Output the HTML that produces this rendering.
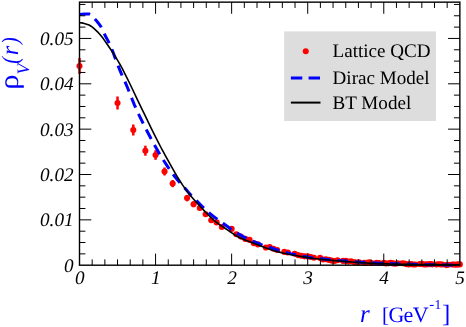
<!DOCTYPE html>
<html><head><meta charset="utf-8"><title>rho_V(r)</title>
<style>html,body{margin:0;padding:0;background:#fff;overflow:hidden}body{width:466px;height:327px;font-family:"Liberation Serif",serif}</style>
</head><body>
<svg width="466" height="327" viewBox="0 0 466 327" style="display:block;will-change:transform" text-rendering="geometricPrecision">
<rect x="0" y="0" width="466" height="327" fill="#fff"/>
<rect x="284.15" y="31.4" width="151.85" height="89.6" fill="#dddddd"/>
<g fill="#ff0000" stroke="none">
<rect x="78.25" y="58.00" width="2.5" height="16.00"/>
<circle cx="79.50" cy="66.00" r="3.05"/>
<rect x="116.28" y="96.50" width="2.5" height="13.00"/>
<circle cx="117.53" cy="103.00" r="3.05"/>
<rect x="132.04" y="124.50" width="2.5" height="11.00"/>
<circle cx="133.29" cy="130.00" r="3.05"/>
<rect x="144.13" y="145.70" width="2.5" height="10.00"/>
<circle cx="145.38" cy="150.70" r="3.05"/>
<rect x="154.32" y="150.20" width="2.5" height="9.60"/>
<circle cx="155.57" cy="155.00" r="3.05"/>
<rect x="163.30" y="167.50" width="2.5" height="8.00"/>
<circle cx="164.55" cy="171.50" r="3.05"/>
<rect x="171.42" y="180.00" width="2.5" height="7.20"/>
<circle cx="172.67" cy="183.60" r="3.05"/>
<rect x="185.83" y="194.90" width="2.5" height="6.40"/>
<circle cx="187.08" cy="198.10" r="3.05"/>
<rect x="192.36" y="201.20" width="2.5" height="6.00"/>
<circle cx="193.61" cy="204.20" r="3.05"/>
<circle cx="199.78" cy="208.00" r="3.05"/>
<circle cx="205.65" cy="214.20" r="3.05"/>
<circle cx="211.26" cy="220.20" r="3.05"/>
<circle cx="216.64" cy="222.40" r="3.05"/>
<circle cx="221.81" cy="227.00" r="3.05"/>
<circle cx="231.64" cy="228.90" r="3.05"/>
<circle cx="236.32" cy="234.20" r="3.05"/>
<circle cx="240.87" cy="236.60" r="3.05"/>
<circle cx="245.29" cy="238.90" r="3.05"/>
<circle cx="249.60" cy="239.90" r="3.05"/>
<circle cx="253.80" cy="243.20" r="3.05"/>
<circle cx="257.90" cy="244.40" r="3.05"/>
<circle cx="265.83" cy="247.60" r="3.05"/>
<circle cx="269.68" cy="247.00" r="3.05"/>
<circle cx="273.44" cy="248.70" r="3.05"/>
<circle cx="277.14" cy="250.00" r="3.05"/>
<circle cx="284.32" cy="251.90" r="3.05"/>
<circle cx="287.83" cy="252.50" r="3.05"/>
<circle cx="294.66" cy="253.80" r="3.05"/>
<circle cx="297.99" cy="255.10" r="3.05"/>
<circle cx="301.28" cy="255.70" r="3.05"/>
<circle cx="304.52" cy="256.34" r="3.05"/>
<circle cx="307.71" cy="256.40" r="3.05"/>
<circle cx="310.86" cy="257.00" r="3.05"/>
<circle cx="313.96" cy="257.70" r="3.05"/>
<circle cx="320.05" cy="257.90" r="3.05"/>
<circle cx="323.04" cy="259.44" r="3.05"/>
<circle cx="325.99" cy="259.30" r="3.05"/>
<circle cx="328.91" cy="259.89" r="3.05"/>
<circle cx="331.80" cy="260.65" r="3.05"/>
<circle cx="334.65" cy="260.94" r="3.05"/>
<circle cx="337.47" cy="260.29" r="3.05"/>
<circle cx="343.01" cy="260.88" r="3.05"/>
<circle cx="345.75" cy="260.92" r="3.05"/>
<circle cx="348.45" cy="261.61" r="3.05"/>
<circle cx="351.12" cy="261.32" r="3.05"/>
<circle cx="353.77" cy="262.05" r="3.05"/>
<circle cx="356.40" cy="262.47" r="3.05"/>
<circle cx="359.00" cy="262.19" r="3.05"/>
<circle cx="364.13" cy="262.88" r="3.05"/>
<circle cx="366.66" cy="262.86" r="3.05"/>
<circle cx="369.17" cy="262.25" r="3.05"/>
<circle cx="371.65" cy="262.96" r="3.05"/>
<circle cx="376.56" cy="262.73" r="3.05"/>
<circle cx="378.99" cy="262.97" r="3.05"/>
<circle cx="383.78" cy="262.91" r="3.05"/>
<circle cx="386.15" cy="263.44" r="3.05"/>
<circle cx="388.50" cy="263.18" r="3.05"/>
<circle cx="390.83" cy="262.89" r="3.05"/>
<circle cx="393.14" cy="263.40" r="3.05"/>
<circle cx="395.44" cy="263.73" r="3.05"/>
<circle cx="397.72" cy="263.21" r="3.05"/>
<circle cx="402.24" cy="263.23" r="3.05"/>
<circle cx="404.47" cy="263.51" r="3.05"/>
<circle cx="406.69" cy="264.25" r="3.05"/>
<circle cx="408.89" cy="264.39" r="3.05"/>
<circle cx="411.08" cy="264.11" r="3.05"/>
<circle cx="413.26" cy="264.48" r="3.05"/>
<circle cx="415.42" cy="264.49" r="3.05"/>
<circle cx="419.70" cy="264.05" r="3.05"/>
<circle cx="421.82" cy="263.75" r="3.05"/>
<circle cx="423.92" cy="264.47" r="3.05"/>
<circle cx="426.02" cy="264.39" r="3.05"/>
<circle cx="428.10" cy="264.20" r="3.05"/>
<circle cx="430.17" cy="264.08" r="3.05"/>
<circle cx="432.22" cy="264.33" r="3.05"/>
<circle cx="436.30" cy="264.48" r="3.05"/>
<circle cx="438.32" cy="264.28" r="3.05"/>
<circle cx="440.33" cy="264.33" r="3.05"/>
<circle cx="442.33" cy="264.56" r="3.05"/>
<circle cx="446.30" cy="265.10" r="3.05"/>
<circle cx="448.26" cy="264.79" r="3.05"/>
<circle cx="452.17" cy="264.46" r="3.05"/>
<circle cx="454.10" cy="264.47" r="3.05"/>
<circle cx="456.03" cy="264.69" r="3.05"/>
<circle cx="457.94" cy="264.39" r="3.05"/>
<circle cx="459.85" cy="264.39" r="3.05"/>
</g>
<path d="M79.50,14.60 L81.89,14.21 L84.28,14.00 L86.68,13.92 L89.07,13.90 L91.46,14.95 L93.85,17.81 L96.24,20.57 L98.63,23.42 L101.03,26.88 L103.42,31.95 L105.81,36.77 L108.20,41.11 L110.59,46.19 L112.99,52.10 L115.38,58.68 L117.77,64.81 L120.16,70.95 L122.55,76.64 L124.94,81.57 L127.34,87.28 L129.73,93.31 L132.12,99.27 L134.51,105.09 L136.90,110.49 L139.30,115.57 L141.69,120.46 L144.08,125.26 L146.47,129.96 L148.86,134.55 L151.25,139.03 L153.65,143.44 L156.04,147.75 L158.43,151.93 L160.82,155.93 L163.21,159.81 L165.61,163.55 L168.00,167.14 L170.39,170.63 L172.78,173.99 L175.17,177.16 L177.56,180.06 L179.96,182.72 L182.35,185.29 L184.74,187.95 L187.13,190.81 L189.52,193.65 L191.92,196.19 L194.31,198.55 L196.70,200.90 L199.09,203.32 L201.48,205.74 L203.87,208.08 L206.27,210.32 L208.66,212.47 L211.05,214.45 L213.44,216.32 L215.83,218.13 L218.23,219.91 L220.62,221.63 L223.01,223.33 L225.40,225.07 L227.79,226.83 L230.18,228.55 L232.58,230.18 L234.97,231.72 L237.36,233.18 L239.75,234.60 L242.14,235.99 L244.54,237.32 L246.93,238.57 L249.32,239.69 L251.71,240.72 L254.10,241.73 L256.49,242.75 L258.89,243.75 L261.28,244.70 L263.67,245.56 L266.06,246.31 L268.45,247.01 L270.85,247.78 L273.24,248.60 L275.63,249.44 L278.02,250.26 L280.41,251.03 L282.81,251.75 L285.20,252.43 L287.59,253.04 L289.98,253.59 L292.37,254.10 L294.76,254.58 L297.16,255.07 L299.55,255.56 L301.94,256.05 L304.33,256.50 L306.72,256.93 L309.12,257.35 L311.51,257.74 L313.90,258.07 L316.29,258.35 L318.68,258.58 L321.07,258.81 L323.47,259.04 L325.86,259.28 L328.25,259.52 L330.64,259.75 L333.03,259.98 L335.43,260.20 L337.82,260.41 L340.21,260.62 L342.60,260.82 L344.99,261.01 L347.38,261.20 L349.78,261.38 L352.17,261.56 L354.56,261.73 L356.95,261.90 L359.34,262.06 L361.74,262.21 L364.13,262.36 L366.52,262.50 L368.91,262.64 L371.30,262.77 L373.69,262.90 L376.09,263.02 L378.48,263.13 L380.87,263.24 L383.26,263.33 L385.65,263.43 L388.05,263.51 L390.44,263.60 L392.83,263.67 L395.22,263.75 L397.61,263.83 L400.00,263.90 L402.40,263.97 L404.79,264.05 L407.18,264.12 L409.57,264.20 L411.96,264.27 L414.36,264.34 L416.75,264.41 L419.14,264.47 L421.53,264.53 L423.92,264.59 L426.31,264.64 L428.71,264.68 L431.10,264.72 L433.49,264.75 L435.88,264.78 L438.27,264.82 L440.67,264.85 L443.06,264.88 L445.45,264.90 L447.84,264.93 L450.23,264.95 L452.62,264.97 L455.02,264.98 L457.41,264.99 L459.80,265.00" fill="none" stroke="#0000ff" stroke-width="3" stroke-dasharray="10.7 6.77" stroke-linejoin="round"/>
<path d="M79.50,22.70 L81.89,22.90 L84.28,23.43 L86.68,24.17 L89.07,25.05 L91.46,26.47 L93.85,28.38 L96.24,30.59 L98.63,32.94 L101.03,35.69 L103.42,38.84 L105.81,42.24 L108.20,45.71 L110.59,49.22 L112.99,52.86 L115.38,56.65 L117.77,60.59 L120.16,64.71 L122.55,69.07 L124.94,73.79 L127.34,78.66 L129.73,83.52 L132.12,88.48 L134.51,93.50 L136.90,98.54 L139.30,103.57 L141.69,108.54 L144.08,113.45 L146.47,118.40 L148.86,123.35 L151.25,128.28 L153.65,133.17 L156.04,137.98 L158.43,142.68 L160.82,147.25 L163.21,151.68 L165.61,156.06 L168.00,160.42 L170.39,164.73 L172.78,168.96 L175.17,173.10 L177.56,177.10 L179.96,180.96 L182.35,184.64 L184.74,188.12 L187.13,191.38 L189.52,194.42 L191.92,197.28 L194.31,200.01 L196.70,202.64 L199.09,205.22 L201.48,207.79 L203.87,210.35 L206.27,212.86 L208.66,215.29 L211.05,217.61 L213.44,219.78 L215.83,221.77 L218.23,223.60 L220.62,225.29 L223.01,226.91 L225.40,228.50 L227.79,230.10 L230.18,231.75 L232.58,233.41 L234.97,235.00 L237.36,236.46 L239.75,237.72 L242.14,238.79 L244.54,239.75 L246.93,240.64 L249.32,241.54 L251.71,242.47 L254.10,243.41 L256.49,244.34 L258.89,245.25 L261.28,246.16 L263.67,247.05 L266.06,247.97 L268.45,248.87 L270.85,249.74 L273.24,250.52 L275.63,251.21 L278.02,251.83 L280.41,252.39 L282.81,252.92 L285.20,253.44 L287.59,253.95 L289.98,254.44 L292.37,254.91 L294.76,255.36 L297.16,255.79 L299.55,256.21 L301.94,256.62 L304.33,257.01 L306.72,257.38 L309.12,257.74 L311.51,258.09 L313.90,258.43 L316.29,258.75 L318.68,259.05 L321.07,259.32 L323.47,259.58 L325.86,259.82 L328.25,260.06 L330.64,260.28 L333.03,260.50 L335.43,260.71 L337.82,260.92 L340.21,261.12 L342.60,261.32 L344.99,261.51 L347.38,261.71 L349.78,261.89 L352.17,262.07 L354.56,262.24 L356.95,262.41 L359.34,262.56 L361.74,262.70 L364.13,262.84 L366.52,262.97 L368.91,263.10 L371.30,263.22 L373.69,263.34 L376.09,263.44 L378.48,263.54 L380.87,263.63 L383.26,263.72 L385.65,263.80 L388.05,263.88 L390.44,263.96 L392.83,264.03 L395.22,264.09 L397.61,264.15 L400.00,264.20 L402.40,264.24 L404.79,264.29 L407.18,264.32 L409.57,264.36 L411.96,264.40 L414.36,264.43 L416.75,264.46 L419.14,264.49 L421.53,264.52 L423.92,264.54 L426.31,264.57 L428.71,264.59 L431.10,264.61 L433.49,264.63 L435.88,264.65 L438.27,264.67 L440.67,264.69 L443.06,264.71 L445.45,264.72 L447.84,264.74 L450.23,264.75 L452.62,264.77 L455.02,264.78 L457.41,264.79 L459.80,264.80" fill="none" stroke="#000" stroke-width="1.6" stroke-linejoin="round"/>
<rect x="79.50" y="2.15" width="380.35" height="263.05" fill="none" stroke="#000" stroke-width="1.4"/>
<path d="M92.18,265.2 v-5.8 M92.18,2.15 v5.8 M104.86,265.2 v-5.8 M104.86,2.15 v5.8 M117.53,265.2 v-5.8 M117.53,2.15 v5.8 M130.21,265.2 v-5.8 M130.21,2.15 v5.8 M142.89,265.2 v-5.8 M142.89,2.15 v5.8 M155.57,265.2 v-11.6 M155.57,2.15 v11.6 M168.25,265.2 v-5.8 M168.25,2.15 v5.8 M180.93,265.2 v-5.8 M180.93,2.15 v5.8 M193.61,265.2 v-5.8 M193.61,2.15 v5.8 M206.28,265.2 v-5.8 M206.28,2.15 v5.8 M218.96,265.2 v-5.8 M218.96,2.15 v5.8 M231.64,265.2 v-11.6 M231.64,2.15 v11.6 M244.32,265.2 v-5.8 M244.32,2.15 v5.8 M257.00,265.2 v-5.8 M257.00,2.15 v5.8 M269.68,265.2 v-5.8 M269.68,2.15 v5.8 M282.35,265.2 v-5.8 M282.35,2.15 v5.8 M295.03,265.2 v-5.8 M295.03,2.15 v5.8 M307.71,265.2 v-11.6 M307.71,2.15 v11.6 M320.39,265.2 v-5.8 M320.39,2.15 v5.8 M333.07,265.2 v-5.8 M333.07,2.15 v5.8 M345.75,265.2 v-5.8 M345.75,2.15 v5.8 M358.42,265.2 v-5.8 M358.42,2.15 v5.8 M371.10,265.2 v-5.8 M371.10,2.15 v5.8 M383.78,265.2 v-11.6 M383.78,2.15 v11.6 M396.46,265.2 v-5.8 M396.46,2.15 v5.8 M409.14,265.2 v-5.8 M409.14,2.15 v5.8 M421.82,265.2 v-5.8 M421.82,2.15 v5.8 M434.49,265.2 v-5.8 M434.49,2.15 v5.8 M447.17,265.2 v-5.8 M447.17,2.15 v5.8 M79.5,253.86 h5.9 M459.85,253.86 h-5.9 M79.5,242.52 h5.9 M459.85,242.52 h-5.9 M79.5,231.19 h5.9 M459.85,231.19 h-5.9 M79.5,219.85 h11.8 M459.85,219.85 h-11.8 M79.5,208.51 h5.9 M459.85,208.51 h-5.9 M79.5,197.17 h5.9 M459.85,197.17 h-5.9 M79.5,185.84 h5.9 M459.85,185.84 h-5.9 M79.5,174.50 h11.8 M459.85,174.50 h-11.8 M79.5,163.16 h5.9 M459.85,163.16 h-5.9 M79.5,151.82 h5.9 M459.85,151.82 h-5.9 M79.5,140.49 h5.9 M459.85,140.49 h-5.9 M79.5,129.15 h11.8 M459.85,129.15 h-11.8 M79.5,117.81 h5.9 M459.85,117.81 h-5.9 M79.5,106.47 h5.9 M459.85,106.47 h-5.9 M79.5,95.14 h5.9 M459.85,95.14 h-5.9 M79.5,83.80 h11.8 M459.85,83.80 h-11.8 M79.5,72.46 h5.9 M459.85,72.46 h-5.9 M79.5,61.12 h5.9 M459.85,61.12 h-5.9 M79.5,49.79 h5.9 M459.85,49.79 h-5.9 M79.5,38.45 h11.8 M459.85,38.45 h-11.8 M79.5,27.11 h5.9 M459.85,27.11 h-5.9 M79.5,15.77 h5.9 M459.85,15.77 h-5.9 M79.5,4.44 h5.9 M459.85,4.44 h-5.9" stroke="#000" stroke-width="1.0" fill="none"/>
<g font-family="Liberation Serif, serif" font-style="italic" font-size="19.2" fill="#000">
<text x="73.6" y="271.70" text-anchor="end">0</text>
<text x="73.6" y="226.35" text-anchor="end">0.01</text>
<text x="73.6" y="181.00" text-anchor="end">0.02</text>
<text x="73.6" y="135.65" text-anchor="end">0.03</text>
<text x="73.6" y="90.30" text-anchor="end">0.04</text>
<text x="73.6" y="44.95" text-anchor="end">0.05</text>
<text x="79.80" y="284.4" text-anchor="middle">0</text>
<text x="155.87" y="284.4" text-anchor="middle">1</text>
<text x="231.94" y="284.4" text-anchor="middle">2</text>
<text x="308.01" y="284.4" text-anchor="middle">3</text>
<text x="384.08" y="284.4" text-anchor="middle">4</text>
<text x="460.15" y="284.4" text-anchor="middle">5</text>
</g>
<text font-family="Liberation Serif, serif" fill="#0000ff" font-size="25" font-style="italic" x="360.1" y="321.8">r</text>
<text font-family="Liberation Serif, serif" fill="#0000ff" font-size="21" y="322.15" x="381.95">[</text>
<text font-family="Liberation Serif, serif" fill="#0000ff" font-size="22" y="322.0" x="388.4 403.4 412.7">GeV</text>
<text font-family="Liberation Serif, serif" fill="#0000ff" font-size="15" y="308.9" x="429.35">-</text>
<text font-family="Liberation Serif, serif" fill="#0000ff" font-size="13.5" y="308.8" x="434.4">1</text>
<text font-family="Liberation Serif, serif" fill="#0000ff" font-size="24.9" y="322.08" x="441.95">]</text>
<g transform="translate(18.0,88.0) rotate(-90)">
<text font-family="Liberation Serif, serif" fill="#0000ff" font-size="27.4" transform="translate(-1.86,-0.1) scale(1.12,1)" x="0" y="0">ρ</text>
<text font-family="Liberation Serif, serif" fill="#0000ff" font-size="17.5" font-style="italic" x="13.5" y="10.5">V</text>
<text font-family="Liberation Serif, serif" fill="#0000ff" font-size="23.7" font-style="italic" transform="translate(24.3,0) scale(0.85,1)" x="0" y="0">(</text>
<text font-family="Liberation Serif, serif" fill="#0000ff" font-size="24.5" font-style="italic" x="32.8" y="0.2">r</text>
<text font-family="Liberation Serif, serif" fill="#0000ff" font-size="23.7" font-style="italic" transform="translate(44.05,0) scale(0.85,1)" x="0" y="0">)</text>
</g>
<circle cx="305.75" cy="51.3" r="3" fill="#ff0000"/>
<path d="M290.9,78.1 H320.3" stroke="#0000ff" stroke-width="3" stroke-dasharray="11.4 6.3" fill="none"/>
<path d="M290.9,102.6 H320.5" stroke="#000" stroke-width="2" fill="none"/>
<g font-family="Liberation Serif, serif" font-size="19.1" fill="#000">
<text x="332.55" y="56.8">Lattice QCD</text>
<text x="332.55" y="84.3">Dirac Model</text>
<text x="332.55" y="109.0">BT Model</text>
</g>
</svg>
</body></html>
